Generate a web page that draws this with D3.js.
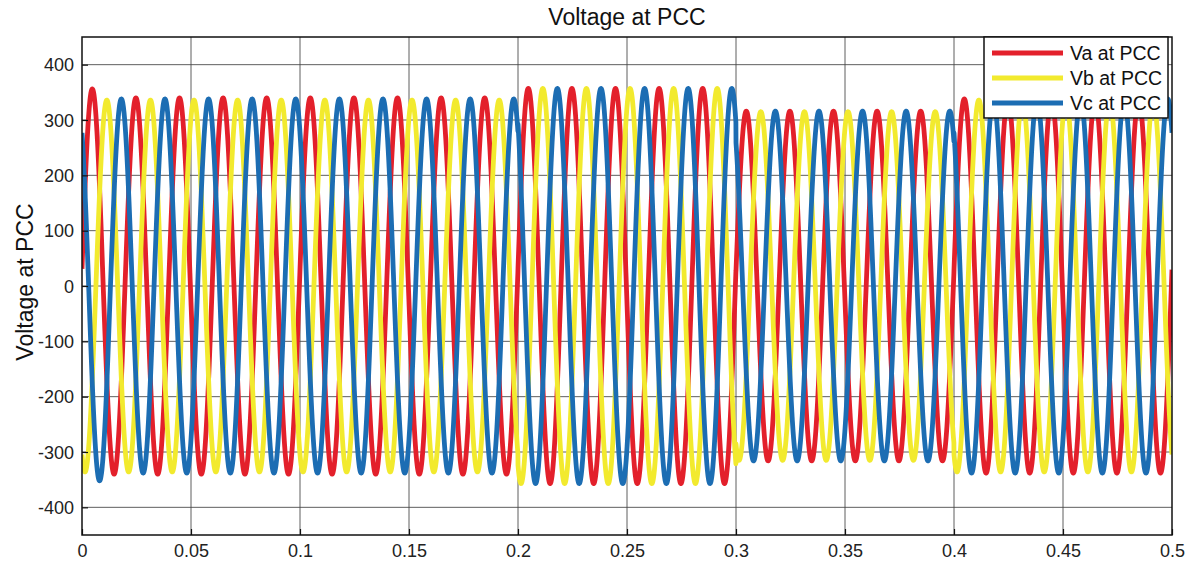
<!DOCTYPE html>
<html>
<head>
<meta charset="utf-8">
<script src="https://cdn.jsdelivr.net/npm/d3@7/dist/d3.min.js"></script>
<style>
  html, body { margin: 0; padding: 0; background: #fff; }
  svg { display: block; font-family: "Liberation Sans", Arial, sans-serif; }
</style>
</head>
<body>
<svg id="chart" width="1194" height="570"></svg>
<script>
// ---- Data ----
const seriesNames = ["Va at PCC", "Vb at PCC", "Vc at PCC"];
const seriesColors = ["#e3202b", "#f2ea2e", "#1c6db3"];
const frequencyHz = 50;                 // 25 cycles over 0.5 s
const phaseDeg = [5, -115, 125];        // Va, Vb, Vc initial phase angles
const segmentStart = [0, 0.2, 0.3, 0.4];
const segmentEnd = [0.2, 0.3, 0.4, 0.5];
const ampVa = [340, 357, 316, 338];     // peak voltage per segment
const ampVb = [336, 357, 315, 336];
const ampVc = [338, 357, 316, 338];
const firstHalfPeakVa = 356;            // start-up overshoot of first red crest
const firstHalfPeakVc = -352;           // start-up overshoot of first blue trough
const xTicks = [0, 0.05, 0.1, 0.15, 0.2, 0.25, 0.3, 0.35, 0.4, 0.45, 0.5];
const yTicks = [-400, -300, -200, -100, 0, 100, 200, 300, 400];
const xDomain = [0, 0.5];
const yDomain = [-450, 450];
const timeStep = 0.00005;

// ---- Layout ----
const svg = d3.select("#chart");
const L = 82, R = 1172, T = 37, B = 535;
const x = d3.scaleLinear().domain(xDomain).range([L, R]);
const y = d3.scaleLinear().domain(yDomain).range([B, T]);

const amps = [ampVa, ampVb, ampVc];
function segIndex(t) {
  for (let i = 0; i < segmentStart.length; i++) if (t >= segmentStart[i] && t < segmentEnd[i]) return i;
  return segmentStart.length - 1;
}
const times = d3.range(xDomain[0], xDomain[1] + timeStep / 2, timeStep);
const series = seriesNames.map((name, k) => {
  const ph = phaseDeg[k] * Math.PI / 180;
  return times.map(t => {
    const ang = 2 * Math.PI * frequencyHz * t + ph;
    const s = Math.sin(ang);
    let a = amps[k][segIndex(t)];
    const half = Math.floor(ang / Math.PI);
    if (k === 0 && half === 0) a = firstHalfPeakVa;
    if (k === 2 && half === 1) a = Math.abs(firstHalfPeakVc);
    return [t, a * s];
  });
});

// ---- Grid ----
const grid = svg.append("g");
grid.selectAll("line.vx").data(xTicks.slice(1, -1)).enter().append("line")
  .attr("x1", d => x(d)).attr("x2", d => x(d)).attr("y1", T).attr("y2", B)
  .attr("stroke", "#444").attr("stroke-width", 1).attr("opacity", 0.85);
grid.selectAll("line.hy").data(yTicks).enter().append("line")
  .attr("x1", L).attr("x2", R).attr("y1", d => y(d)).attr("y2", d => y(d))
  .attr("stroke", "#444").attr("stroke-width", 1).attr("opacity", 0.85);

// ---- Lines ----
svg.append("clipPath").attr("id", "clip").append("rect")
  .attr("x", L).attr("y", T).attr("width", R - L).attr("height", B - T);
const line = d3.line().x(d => x(d[0])).y(d => y(d[1]));
const plot = svg.append("g").attr("clip-path", "url(#clip)");
series.forEach((s, k) => {
  plot.append("path").datum(s)
    .attr("d", line)
    .attr("fill", "none")
    .attr("stroke", seriesColors[k])
    .attr("stroke-width", 4.8)
    .attr("stroke-linejoin", "round");
});

// ---- Axes ----
const xAxis = d3.axisBottom(x).tickValues(xTicks).tickSize(-6)
  .tickFormat(d => d === 0 ? "0" : String(+d.toFixed(2)));
const yAxis = d3.axisLeft(y).tickValues(yTicks).tickSize(-6).tickFormat(d => String(d));
const gx = svg.append("g").attr("transform", `translate(0,${B})`).call(xAxis);
const gy = svg.append("g").attr("transform", `translate(${L},0)`).call(yAxis);
[gx, gy].forEach(g => {
  g.select(".domain").remove();
  g.selectAll(".tick line").attr("stroke", "#111").attr("stroke-width", 1.2);
  g.selectAll(".tick text").attr("fill", "#222").style("font-size", "18px")
    .style("font-family", "'Liberation Sans', Arial, sans-serif");
});
gx.selectAll(".tick text").attr("dy", "0").attr("y", 22);
gy.selectAll(".tick text").attr("x", -8).attr("dy", "0.35em");

// frame
svg.append("rect").attr("x", L).attr("y", T).attr("width", R - L).attr("height", B - T)
  .attr("fill", "none").attr("stroke", "#111").attr("stroke-width", 1.5);

// ---- Titles ----
svg.append("text").attr("x", (L + R) / 2).attr("y", 25).attr("text-anchor", "middle")
  .style("font-size", "23px").attr("fill", "#111").text("Voltage at PCC");
svg.append("text").attr("transform", `translate(33,282) rotate(-90)`)
  .attr("text-anchor", "middle").style("font-size", "23px").attr("fill", "#111")
  .text("Voltage at PCC");

// ---- Legend ----
const lg = svg.append("g");
lg.append("rect").attr("x", 984).attr("y", 37).attr("width", 184).attr("height", 81)
  .attr("fill", "#fff").attr("stroke", "#111").attr("stroke-width", 1.5);
const rowsY = [53, 78, 103];
seriesNames.forEach((name, k) => {
  lg.append("line").attr("x1", 992).attr("x2", 1063).attr("y1", rowsY[k]).attr("y2", rowsY[k])
    .attr("stroke", seriesColors[k]).attr("stroke-width", 5);
  lg.append("text").attr("x", 1070).attr("y", rowsY[k] + 7)
    .style("font-size", "19.5px").attr("fill", "#111").text(name);
});
</script>
</body>
</html>
